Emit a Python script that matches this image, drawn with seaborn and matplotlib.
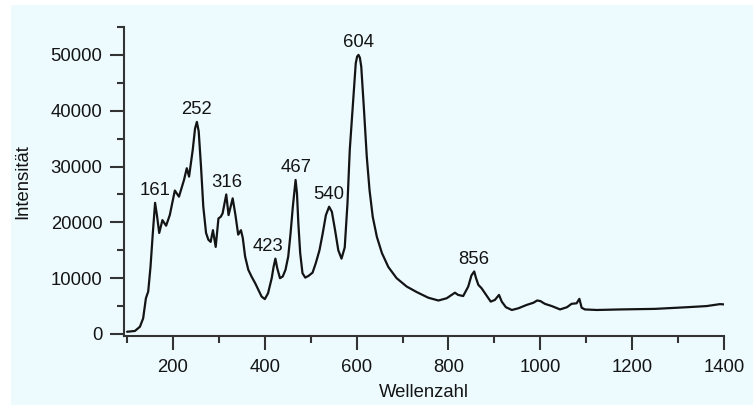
import matplotlib
matplotlib.use("Agg")
import matplotlib.pyplot as plt
from matplotlib.patches import Rectangle
from matplotlib.ticker import MultipleLocator
import pandas as pd
import seaborn as sns

# Raman spectrum: wavenumber vs. intensity
wellenzahl = [
    100, 117, 128, 135, 141, 146, 151, 156, 161, 165, 170, 177, 185, 193,
    204, 213, 224, 230, 235, 243, 248, 252, 256, 261, 266, 272, 277, 282,
    287, 293, 299, 304, 308, 316, 321, 330, 336, 342, 348, 352, 357, 364,
    371, 379, 386, 393, 400, 407, 415, 419, 423, 427, 433, 439, 445, 451,
    456, 461, 467, 470, 473, 477, 482, 488, 495, 504, 511, 519, 526, 533,
    540, 546, 553, 560, 567, 574, 580, 585, 593, 598, 601, 604, 607, 610,
    616, 622, 628, 635, 644, 655, 669, 687, 709, 731, 756, 778, 796, 807,
    814, 821, 832, 843, 850, 856, 860, 865, 872, 882, 892, 901, 910, 916,
    925, 938, 952, 970, 985, 993, 1000, 1010, 1025, 1043, 1058, 1068, 1079,
    1085, 1090, 1097, 1123, 1175, 1250, 1320, 1362, 1391, 1400,
]
intensitaet = [
    400, 540, 1300, 2800, 6400, 7600, 12000, 18000, 23500, 21300, 18100,
    20400, 19400, 21300, 25700, 24600, 27600, 29700, 28200, 33000, 36800,
    38000, 36300, 30000, 22800, 18100, 16900, 16500, 18600, 15600, 20700,
    21000, 21600, 25000, 21300, 24300, 21300, 17800, 18600, 17200, 13900,
    11500, 10300, 9100, 7900, 6700, 6250, 7300, 10000, 12000, 13500, 11800,
    10000, 10300, 11500, 13900, 18000, 22800, 27600, 25200, 19800, 14500,
    10900, 10100, 10400, 11000, 12700, 15000, 18000, 21300, 22800, 21900,
    18600, 15000, 13500, 15500, 23400, 33000, 42500, 48500, 49700, 50000,
    49500, 47900, 40100, 31800, 25800, 21000, 17400, 14500, 12000, 10000,
    8500, 7500, 6500, 6000, 6400, 7000, 7400, 7000, 6800, 8500, 10500,
    11200, 10000, 8800, 8200, 7000, 5800, 6100, 7000, 5800, 4800, 4300,
    4600, 5200, 5600, 6000, 5900, 5400, 5000, 4400, 4800, 5400, 5500, 6300,
    4700, 4400, 4300, 4400, 4500, 4800, 5000, 5350, 5300,
]

# Labelled band positions
peaks = [161, 252, 316, 423, 467, 540, 604, 856]

x_ticks = [200, 400, 600, 800, 1000, 1200, 1400]
y_ticks = [0, 10000, 20000, 30000, 40000, 50000]

bg = "#EDFBFF"
ink = "#141414"
axis_col = "#333333"

sns.set_theme(style="ticks")
plt.rcParams["font.family"] = ["Liberation Sans", "DejaVu Sans"]

fig = plt.figure(figsize=(7.53, 4.08), dpi=100, facecolor="white")
panel = Rectangle((11 / 753, 3 / 408), 742 / 753, 400 / 408,
                  transform=fig.transFigure, facecolor=bg,
                  edgecolor="none", zorder=-10)
fig.add_artist(panel)
ax = fig.add_axes([124 / 753, 72 / 408, 600 / 753, 309 / 408])
ax.set_zorder(5)
ax.set_facecolor(bg)

df = pd.DataFrame({"Wellenzahl": wellenzahl, "Intensität": intensitaet})
sns.lineplot(data=df, x="Wellenzahl", y="Intensität", ax=ax,
             color=ink, linewidth=1.6, sort=False)

ax.set_xlim(93.3, 1400)
ax.set_ylim(-360, 55000)
ax.set_xticks(x_ticks)
ax.set_yticks(y_ticks)
ax.xaxis.set_minor_locator(MultipleLocator(100))
ax.yaxis.set_minor_locator(MultipleLocator(5000))

sns.despine(ax=ax)
for side in ("left", "bottom"):
    ax.spines[side].set_color(axis_col)
    ax.spines[side].set_linewidth(1.5)

ax.tick_params(axis="both", which="major", length=10, width=1.5,
               color=axis_col, labelsize=13.3, labelcolor=ink)
ax.tick_params(axis="both", which="minor", length=5, width=1.5,
               color=axis_col)
ax.tick_params(axis="y", which="major", pad=5.5)
ax.tick_params(axis="x", which="major", pad=6.5)

ax.set_xlabel("Wellenzahl", fontsize=13.3, color=ink)
ax.set_ylabel("Intensität", fontsize=13.3, color=ink)
ax.xaxis.set_label_coords(0.5, -0.155)
ax.yaxis.set_label_coords(-0.155, 0.5)

# Band labels above each peak
lookup = dict(zip(wellenzahl, intensitaet))
shift = {423: -5}
for p in peaks:
    ax.annotate(str(p), xy=(p, lookup[p]),
                xytext=(shift.get(p, 0), 8.6), textcoords="offset points",
                ha="center", va="center", fontsize=13.3, color=ink)

fig.savefig("out.png", dpi=100, facecolor="white")
